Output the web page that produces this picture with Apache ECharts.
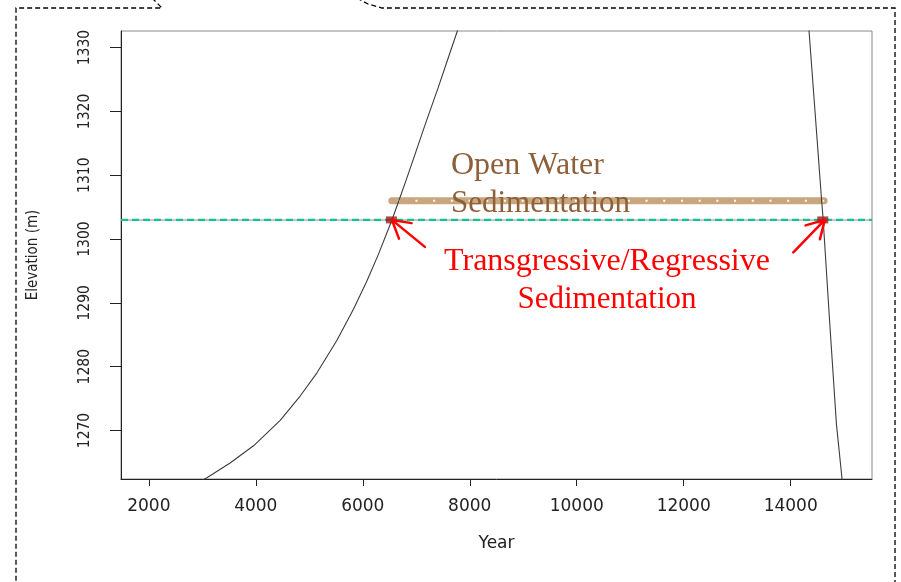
<!DOCTYPE html>
<html>
<head>
<meta charset="utf-8">
<script src="https://cdn.jsdelivr.net/npm/echarts@6/dist/echarts.min.js"></script>
<style>
html,body{margin:0;padding:0;background:#fff;}
#chart{width:901px;height:582px;}
</style>
</head>
<body>
<div id="chart"></div>
<script>
// ---- data ----
const xTicks = [2000, 4000, 6000, 8000, 10000, 12000, 14000];
const yTicks = [1270, 1280, 1290, 1300, 1310, 1320, 1330];

const riseYears = [2900, 3086, 3520, 3957, 4456, 4829, 5141, 5515, 5825, 6075, 6292, 6542, 6666, 6822, 6978, 7164, 7413, 7570, 7768, 7900];
const riseElev  = [1261.8, 1262.6, 1264.9, 1267.6, 1271.6, 1275.4, 1279.0, 1284.1, 1289.0, 1293.4, 1297.6, 1302.9, 1305.8, 1309.5, 1313.3, 1317.9, 1323.8, 1327.7, 1332.6, 1335.8];

const fallYears = [14320, 14343, 14575, 14605, 14730, 14855, 14960, 14985];
const fallElev  = [1335.2, 1332.6, 1306.4, 1303.3, 1286.8, 1271.0, 1262.4, 1259.6];

const lakeYears = [1480, 15520];
const lakeElev  = [1303.0, 1303.0];

const openWaterYears = [6542, 14625];
const openWaterElev  = [1306.0, 1306.0];

const markerYears = [6535, 14600];
const markerElev  = [1303.0, 1303.0];

const openWaterText = ['Open Water', 'Sedimentation'];
const transText = ['Transgressive/Regressive', 'Sedimentation'];

const xName = 'Year';
const yName = 'Elevation (m)';

// ---- chart ----
const zip = (a, b) => a.map((v, i) => [v, b[i]]);
const chart = echarts.init(document.getElementById('chart'), null, {renderer: 'canvas'});
const plain = v => String(v);
const yFont = 'DejaVu Sans Condensed, Liberation Sans, sans-serif';

const option = {
  animation: false,
  backgroundColor: '#fff',
  grid: {left: 121, right: 29, top: 31, bottom: 103, show: true, borderColor: '#8a8a8a', borderWidth: 1, backgroundColor: 'transparent'},
  xAxis: {
    type: 'value', min: 1480, max: 15520,
    name: xName, nameLocation: 'middle', nameGap: 56,
    nameTextStyle: {fontFamily: 'DejaVu Sans', fontSize: 17, color: '#222'},
    axisLine: {show: true, onZero: false, lineStyle: {color: '#222', width: 1}},
    axisTick: {show: true, customValues: xTicks, length: 7, lineStyle: {color: '#222'}},
    axisLabel: {customValues: xTicks, formatter: plain, margin: 19, fontFamily: 'DejaVu Sans', fontSize: 17, color: '#222'},
    splitLine: {show: false}
  },
  yAxis: {
    type: 'value', min: 1262.4, max: 1332.6,
    name: yName, nameLocation: 'middle', nameGap: 80, nameRotate: 90,
    nameTextStyle: {fontFamily: yFont, fontSize: 15, color: '#222'},
    axisLine: {show: true, onZero: false, lineStyle: {color: '#222', width: 1}},
    axisTick: {show: true, customValues: yTicks, length: 11, lineStyle: {color: '#222'}},
    axisLabel: {customValues: yTicks, formatter: plain, rotate: 90, margin: 28, fontFamily: yFont, fontSize: 15.5, color: '#222'},
    splitLine: {show: false}
  },
  series: [
    {type: 'line', name: 'lake level base', data: zip(lakeYears, lakeElev), symbol: 'none', clip: true,
      lineStyle: {color: '#b4b4b4', width: 1.5}, z: 2},
    {type: 'line', name: 'lake level', data: zip(lakeYears, lakeElev), symbol: 'none', clip: true,
      lineStyle: {color: '#12c28f', width: 2.3, type: [7, 4]}, z: 3},
    {type: 'line', name: 'open water', data: zip(openWaterYears, openWaterElev), symbol: 'none', clip: true,
      lineStyle: {color: '#c8a77f', width: 7, cap: 'round'}, z: 4},
    {type: 'line', name: 'open water dots', data: zip(openWaterYears, openWaterElev), symbol: 'none', clip: true,
      lineStyle: {color: '#ffffff', width: 2, type: [2, 15.7], dashOffset: -6}, z: 5},
    {type: 'line', name: 'rise', data: zip(riseYears, riseElev), symbol: 'none', clip: true,
      lineStyle: {color: '#3c3c3c', width: 1.1, join: 'round'}, z: 6},
    {type: 'line', name: 'fall', data: zip(fallYears, fallElev), symbol: 'none', clip: true,
      lineStyle: {color: '#3c3c3c', width: 1.1, join: 'round'}, z: 6},
    {type: 'scatter', name: 'crossings', data: zip(markerYears, markerElev), symbol: 'rect', symbolSize: [11, 7],
      itemStyle: {color: '#9a1c1c'}, z: 7}
  ]
};
chart.setOption(option);

// ---- annotations ----
function arrow(tip, dx, dy) {
  const start = [tip[0] + dx, tip[1] + dy];
  const len = Math.hypot(dx, dy);
  const ux = dx / len, uy = dy / len;
  const wl = 20, a = Math.PI / 6;
  const w1 = [tip[0] + wl * (ux * Math.cos(a) - uy * Math.sin(a)), tip[1] + wl * (ux * Math.sin(a) + uy * Math.cos(a))];
  const w2 = [tip[0] + wl * (ux * Math.cos(-a) - uy * Math.sin(-a)), tip[1] + wl * (ux * Math.sin(-a) + uy * Math.cos(-a))];
  const st = {stroke: '#ff0000', lineWidth: 2.5, lineCap: 'round', lineJoin: 'round', fill: null};
  return [
    {type: 'polyline', shape: {points: [start, tip]}, style: st, z: 20},
    {type: 'polyline', shape: {points: [w1, tip, w2]}, style: st, z: 20}
  ];
}
const pL = chart.convertToPixel({gridIndex: 0}, [markerYears[0], markerElev[0]]);
const pR = chart.convertToPixel({gridIndex: 0}, [markerYears[1], markerElev[1]]);

const border = {stroke: '#000', lineWidth: 1.3, lineDash: [5, 3], fill: null};
const graphics = [
  {type: 'polyline', shape: {points: [[152, -2], [162, 8], [16, 8], [16, 584]]}, style: border, z: 30},
  {type: 'polyline', shape: {points: [[357, -2], [368, 4], [382, 8], [895, 8], [895, 584]]}, style: border, z: 30},
  {type: 'text', style: {text: openWaterText[0], x: 451, y: 166, font: '32px "Liberation Serif", "Times New Roman", serif', fill: '#8d6039', align: 'left', verticalAlign: 'middle'}, z: 21},
  {type: 'text', style: {text: openWaterText[1], x: 451, y: 204, font: '31px "Liberation Serif", "Times New Roman", serif', fill: '#8d6039', align: 'left', verticalAlign: 'middle'}, z: 21},
  {type: 'text', style: {text: transText[0], x: 607, y: 262, font: '32px "Liberation Serif", "Times New Roman", serif', fill: '#ff0000', align: 'center', verticalAlign: 'middle'}, z: 21},
  {type: 'text', style: {text: transText[1], x: 607, y: 300, font: '31px "Liberation Serif", "Times New Roman", serif', fill: '#ff0000', align: 'center', verticalAlign: 'middle'}, z: 21}
]
.concat(arrow([pL[0] + 0.5, pL[1]], 33, 27))
.concat(arrow([pR[0] + 2, pR[1]], -31.5, 32.5));

chart.setOption({graphic: graphics});
</script>
</body>
</html>
